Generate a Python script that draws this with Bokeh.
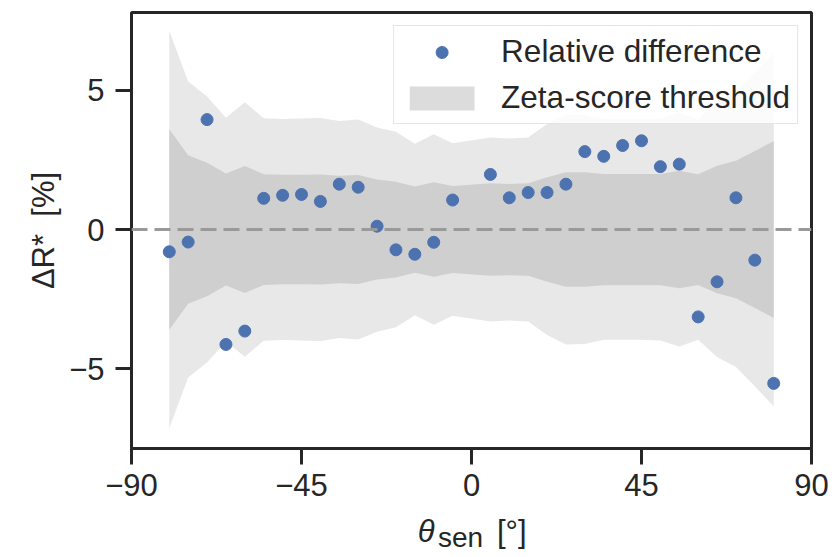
from bokeh.plotting import figure
from bokeh.layouts import column
from bokeh.models import Span, Legend, LegendItem, FixedTicker, Range1d, ColumnDataSource
from bokeh.core.properties import value
from bokeh.embed import file_html
from bokeh.resources import INLINE

# ---- data ----
theta = [-80, -75, -70, -65, -60, -55, -50, -45, -40, -35, -30, -25, -20, -15, -10, -5,
         5, 10, 15, 20, 25, 30, 35, 40, 45, 50, 55, 60, 65, 70, 75, 80]
rel_diff = [-0.80, -0.45, 3.95, -4.13, -3.65, 1.12, 1.23, 1.26, 1.01, 1.63, 1.52, 0.12,
            -0.73, -0.89, -0.46, 1.06,
            1.98, 1.14, 1.33, 1.33, 1.63, 2.80, 2.63, 3.02, 3.19, 2.26, 2.35, -3.14,
            -1.88, 1.14, -1.10, -5.53]
zeta_inner = [3.60, 2.67, 2.40, 2.01, 2.28, 1.99, 1.97, 1.97, 1.98, 1.93, 1.96, 1.80,
              1.72, 1.55, 1.70, 1.56,
              1.66, 1.64, 1.66, 1.88, 2.06, 2.06, 2.00, 2.00, 2.00, 2.00, 2.11, 1.99,
              2.29, 2.47, 2.82, 3.18]
zeta_outer = [7.14, 5.32, 4.78, 4.02, 4.57, 4.00, 3.97, 3.99, 4.01, 3.90, 3.95, 3.67,
              3.51, 3.08, 3.42, 3.10,
              3.31, 3.27, 3.31, 3.79, 4.13, 4.11, 3.96, 3.96, 3.96, 3.99, 4.20, 3.96,
              4.58, 4.94, 5.63, 6.35]
x_ticks = [-90, -45, 0, 45, 90]
y_ticks = [-5, 0, 5]
series_labels = ["Relative difference", "Zeta-score threshold"]
x_label_parts = ["\u03b8", "sen", "[\u00b0]"]
y_label = "\u0394R*\u00a0 [%]"

FONT = "Liberation Sans"
TXT = "#262626"
FS = "31px"

W = 835
LEFT, RIGHT = 131, 24
H_MAIN, H_LAB = 510, 47

src = ColumnDataSource(dict(
    x=theta, y=rel_diff,
    in_lo=[-v for v in zeta_inner], in_hi=zeta_inner,
    out_lo=[-v for v in zeta_outer], out_hi=zeta_outer,
))

p = figure(width=W, height=H_MAIN, output_backend="svg", toolbar_location=None,
           x_range=Range1d(-90, 90), y_range=Range1d(-7.87, 7.80),
           min_border_left=LEFT, min_border_right=RIGHT, min_border_top=12,
           min_border_bottom=H_MAIN - 448)

p.background_fill_color = "white"
p.border_fill_color = "white"
p.grid.visible = False
p.outline_line_color = TXT
p.outline_line_width = 3

outer = p.varea(x="x", y1="out_lo", y2="out_hi", source=src, fill_color="#e8e8e8")
inner = p.varea(x="x", y1="in_lo", y2="in_hi", source=src, fill_color="#cfcfcf")
# zero-area renderer used only for the legend patch
legend_patch = p.varea(x="x", y1="in_hi", y2="in_hi", source=src, fill_color="#dcdcdc")

p.add_layout(Span(location=0, dimension="width", line_color="#999999",
                  line_width=3, line_dash="16 7"))

pts = p.scatter(x="x", y="y", source=src, size=12, fill_color="#4c72b0", line_color="#4c72b0")

for ax in (p.xaxis[0], p.yaxis[0]):
    ax.axis_line_color = TXT
    ax.axis_line_width = 3
    ax.major_tick_line_color = TXT
    ax.major_tick_line_width = 3
    ax.major_tick_out = 16
    ax.major_tick_in = 0
    ax.minor_tick_line_color = None
    ax.major_label_text_font = FONT
    ax.major_label_text_font_size = FS
    ax.major_label_text_color = TXT

p.xaxis.ticker = FixedTicker(ticks=x_ticks)
p.yaxis.ticker = FixedTicker(ticks=y_ticks)
p.xaxis.major_label_overrides = {t: (str(t) if t >= 0 else "\u2212" + str(-t)) for t in x_ticks}
p.yaxis.major_label_overrides = {t: (str(t) if t >= 0 else "\u2212" + str(-t)) for t in y_ticks}
p.xaxis.major_label_standoff = 9
p.yaxis.major_label_standoff = 11

p.yaxis.axis_label = y_label
p.yaxis.axis_label_text_font = FONT
p.yaxis.axis_label_text_font_size = FS
p.yaxis.axis_label_text_font_style = "normal"
p.yaxis.axis_label_text_color = TXT
p.yaxis.axis_label_standoff = 5

legend = Legend(items=[LegendItem(label=series_labels[0], renderers=[pts]),
                       LegendItem(label=series_labels[1], renderers=[legend_patch])],
                location="top_right")
legend.margin = 13
legend.padding = 7
legend.spacing = 9
legend.glyph_width = 81
legend.glyph_height = 30
legend.label_standoff = 19
legend.label_text_font = FONT
legend.label_text_font_size = "31.5px"
legend.label_text_color = TXT
legend.background_fill_color = "white"
legend.background_fill_alpha = 0.8
legend.border_line_color = "#cccccc"
legend.border_line_width = 1.5
p.add_layout(legend)

# ---- x-axis label strip (theta with subscript "sen") ----
q = figure(width=W, height=H_LAB, output_backend="svg", toolbar_location=None,
           x_range=p.x_range, y_range=Range1d(0, H_LAB),
           min_border_left=LEFT, min_border_right=RIGHT, min_border_top=0, min_border_bottom=0)
q.axis.visible = False
q.grid.visible = False
q.outline_line_color = None
q.background_fill_color = "white"
q.border_fill_color = "white"
q.text(x=[-14.2], y=[26], text=[x_label_parts[0]], text_font=value(FONT), text_font_size=FS,
       text_font_style="italic", text_color=TXT, text_baseline="alphabetic", text_align="left")
q.text(x=[-8.9], y=[20], text=[x_label_parts[1]], text_font=value(FONT), text_font_size="28px",
       text_color=TXT, text_baseline="alphabetic", text_align="left")
q.text(x=[6.75], y=[26], text=[x_label_parts[2]], text_font=value(FONT), text_font_size=FS,
       text_color=TXT, text_baseline="alphabetic", text_align="left")

layout = column(p, q, spacing=0)
open("out.html", "w").write(file_html(layout, INLINE))
